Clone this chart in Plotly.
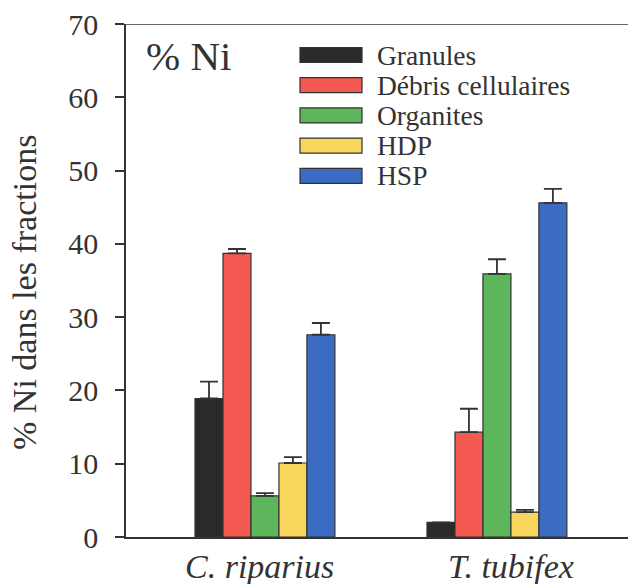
import plotly.graph_objects as go

species = ["C. riparius", "T. tubifex"]
species_labels = ["<i>C. riparius</i>", "<i>T. tubifex</i>"]
fractions = ["Granules", "Débris cellulaires", "Organites", "HDP", "HSP"]
colors = ["#2a2a2a", "#f45a52", "#5db55c", "#f8d65c", "#3b6cc1"]

granules = [18.9, 2.0]
debris = [38.7, 14.3]
organites = [5.6, 35.9]
hdp = [10.1, 3.4]
hsp = [27.6, 45.6]

granules_err = [2.3, 0.0]
debris_err = [0.6, 3.2]
organites_err = [0.4, 2.0]
hdp_err = [0.8, 0.3]
hsp_err = [1.6, 1.9]

values = [granules, debris, organites, hdp, hsp]
errors = [granules_err, debris_err, organites_err, hdp_err, hsp_err]

y_ticks = [0, 10, 20, 30, 40, 50, 60, 70]

FONT = "Liberation Serif"
INK = "#333333"

fig = go.Figure()
for name, vals, errs, col in zip(fractions, values, errors, colors):
    fig.add_trace(go.Bar(
        x=species, y=vals, name=name,
        marker=dict(color=col, line=dict(color=INK, width=1.2)),
        error_y=dict(type="data", symmetric=False, array=errs,
                     arrayminus=[0] * len(errs), color=INK,
                     thickness=1.8, width=9),
        showlegend=False,
    ))

# custom legend (wide swatches like the original)
row0_px, row_step_px = 55, 30.2
plot_top_px, plot_h_px, plot_left_px, plot_w_px = 24, 513, 126, 502
shapes = []
annotations = []
for i, (name, col) in enumerate(zip(fractions, colors)):
    cy = row0_px + i * row_step_px
    yc = (plot_top_px + plot_h_px - cy) / plot_h_px
    half = 7.5 / plot_h_px
    shapes.append(dict(type="rect", xref="paper", yref="paper",
                       x0=(300 - plot_left_px) / plot_w_px,
                       x1=(362 - plot_left_px) / plot_w_px,
                       y0=yc - half, y1=yc + half,
                       fillcolor=col, line=dict(color=INK, width=1.2)))
    annotations.append(dict(xref="paper", yref="paper",
                            x=(375 - plot_left_px) / plot_w_px, y=yc,
                            xanchor="left", yanchor="middle", showarrow=False,
                            text=name, font=dict(family=FONT, size=27.5, color=INK)))

# top frame line
shapes.append(dict(type="line", xref="paper", yref="y", x0=0, x1=1, y0=70, y1=70,
                   line=dict(color=INK, width=1.7)))

annotations.append(dict(xref="paper", yref="paper",
                        x=(144 - plot_left_px) / plot_w_px,
                        y=(plot_top_px + plot_h_px - 56) / plot_h_px,
                        xanchor="left", yanchor="middle", showarrow=False,
                        text="% Ni", font=dict(family=FONT, size=41, color=INK)))

annotations.append(dict(xref="paper", yref="paper",
                        x=(24 - plot_left_px) / plot_w_px,
                        y=(plot_top_px + plot_h_px - 293) / plot_h_px,
                        xanchor="center", yanchor="middle", showarrow=False,
                        textangle=-90,
                        text="% Ni dans les fractions",
                        font=dict(family=FONT, size=34, color=INK)))

# category labels under the groups
label_shifts = [-5, 14]
for sp, lab, sh in zip(species, species_labels, label_shifts):
    annotations.append(dict(xref="x", yref="y", x=sp, y=0,
                            xanchor="center", yanchor="top", showarrow=False,
                            xshift=sh, yshift=-9, text=lab,
                            font=dict(family=FONT, size=34, color=INK)))

fig.update_layout(
    width=628, height=584,
    margin=dict(l=126, r=0, t=24, b=47),
    paper_bgcolor="white", plot_bgcolor="white",
    font=dict(family=FONT, color=INK),
    barmode="group", bargap=0.397, bargroupgap=0,
    shapes=shapes, annotations=annotations,
    xaxis=dict(type="category", range=[-0.599, 1.565],
               showticklabels=False,
               showline=True, linecolor=INK, linewidth=1.7,
               ticks="", showgrid=False, zeroline=False),
    yaxis=dict(range=[0, 70], tickvals=y_ticks,
               showline=True, linecolor=INK, linewidth=1.7,
               ticks="outside", ticklen=9, tickwidth=1.7, tickcolor=INK,
               ticklabelstandoff=11, showgrid=False, zeroline=False,
               tickfont=dict(family=FONT, size=30, color=INK)),
)

fig.write_html("out.html")
